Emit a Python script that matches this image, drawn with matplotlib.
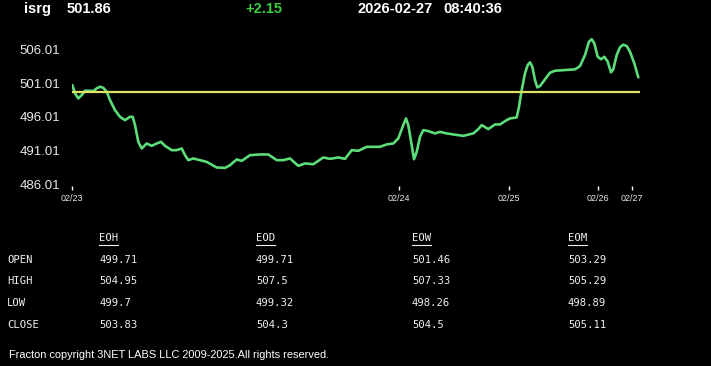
import numpy as np
import matplotlib
matplotlib.use("Agg")
import matplotlib.pyplot as plt
from matplotlib.lines import Line2D

# ---------------- dados ----------------
symbol = "isrg"
last_price = "501.86"
change = "+2.15"
stamp_date = "2026-02-27"
stamp_time = "08:40:36"
prev_close = 499.71

# tempo da sessao (unidades do eixo) e preco
t = [0.3, 3, 6.3, 9.7, 13, 18, 21.3, 24.7, 28, 31.3, 34.7, 38, 43, 48, 53, 58, 60.7,
     63, 66.3, 69.7, 74.7, 79.7, 84.7, 89, 93, 99.7, 104.7, 109.7, 113, 116.3, 121.3,
     134.7, 144.7, 153, 158, 164.7, 169.7, 178, 188, 196.3, 204.7, 211.3, 218, 226.3,
     233, 241.3, 251.3, 258, 266.3, 273, 279.7, 286.3, 294.7, 304.7,
     308, 314.7, 321.3, 326.3, 331.3, 334, 336.3, 339.7, 342, 344.7, 348, 351.3,
     356.3, 363, 368, 374.7, 381.3, 391.3, 401.3, 406.3, 409.7, 416.3, 423, 428, 434.7,
     438, 444.7, 447, 449.7, 453, 455.7, 458, 460.3, 463, 465.3, 468, 473, 478, 483,
     493, 503, 508, 513, 517, 519.7, 522.3, 525.7, 529, 532.3, 535.7, 539, 541.3,
     544.7, 548, 551.3, 554.7, 558, 562.3, 566.3]
price = [500.71, 499.48, 498.74, 499.23, 499.87, 499.87, 499.82, 500.22, 500.46,
         500.31, 499.72, 498.49, 497.00, 496.01, 495.52, 496.01, 496.01, 494.78,
         492.30, 491.32, 492.06, 491.71, 492.06, 492.30, 491.71, 491.07, 491.07,
         491.32, 490.33, 489.59, 489.84,
         489.33, 488.50, 488.44, 488.84, 489.69, 489.48, 490.33, 490.43, 490.43,
         489.59, 489.59, 489.84, 488.74, 489.10, 488.99, 489.99, 489.78, 489.99,
         489.78, 491.07, 490.97, 491.56, 491.56,
         491.56, 491.92, 492.06, 492.81, 494.78, 495.77, 494.78, 491.81, 489.73,
         490.82, 493.04, 494.04, 493.89, 493.55, 493.78, 493.55, 493.40, 493.19,
         493.55, 494.19, 494.78, 494.19, 494.88, 494.88, 495.52,
         495.77, 495.92, 497.49, 499.97, 502.45, 503.68, 504.08, 503.43, 501.46,
         500.37, 500.56, 501.56, 502.54, 502.83, 502.94, 503.04, 503.53, 505.16,
         507.14, 507.50, 506.90, 504.91, 504.53, 504.91, 504.17, 502.60, 503.04,
         505.16, 506.31, 506.69, 506.50, 505.65, 503.93, 501.86]

day_pos = [0, 327, 437, 526, 560]
day_labels = ["02/23", "02/24", "02/25", "02/26", "02/27"]
y_ticks = [486.01, 491.01, 496.01, 501.01, 506.01]

col_names = ["EOH", "EOD", "EOW", "EOM"]
row_names = ["OPEN", "HIGH", "LOW", "CLOSE"]
eoh = ["499.71", "504.95", "499.7", "503.83"]
eod = ["499.71", "507.5", "499.32", "504.3"]
eow = ["501.46", "507.33", "498.26", "504.5"]
eom = ["503.29", "505.29", "498.89", "505.11"]

footer = "Fracton copyright 3NET LABS LLC 2009-2025.All rights reserved."

# ---------------- figura ----------------
W, H = 711, 366
fig = plt.figure(figsize=(W / 100, H / 100), dpi=100, facecolor="black")

def px(x, y):
    return x / W, 1 - y / H

ax = fig.add_axes([72 / W, 1 - 186 / H, (640 - 72) / W, (186 - 30) / H])
ax.set_facecolor("black")
for s in ax.spines.values():
    s.set_visible(False)

ax.plot(t, price, color="#5ddc7a", lw=1.9, solid_joinstyle="round",
        solid_capstyle="round")
ax.axhline(prev_close, color="#dfe463", lw=1.6)

ax.set_xlim(0, 568)
ax.set_ylim(485.76, 508.87)
ax.set_yticks(y_ticks)
ax.set_yticklabels([f"{v:.2f}" for v in y_ticks])
ax.set_xticks(day_pos)
ax.set_xticklabels(day_labels)
ax.tick_params(axis="y", length=0, pad=8.5, labelcolor="#e8e8e8", labelsize=9.5)
ax.tick_params(axis="x", length=3, width=1, color="white", direction="out",
               pad=2.5, labelcolor="#e8e8e8", labelsize=6.5)
for lab in ax.get_yticklabels() + ax.get_xticklabels():
    lab.set_family("Liberation Sans")

# cabecalho
hdr = dict(family="Liberation Sans", fontsize=10.5, fontweight="bold", va="center")
fig.text(*px(24, 9), symbol, color="white", **hdr)
fig.text(*px(67, 9), last_price, color="white", **hdr)
fig.text(*px(245, 9), change, color="#3ccc3c", **hdr)
fig.text(*px(357, 9), stamp_date, color="white", **hdr)
fig.text(*px(443, 9), stamp_time, color="white", **hdr)

# tabela
mono = dict(family="DejaVu Sans Mono", fontsize=7.6, color="#f0f0f0", va="center")
col_x = [99, 256, 412, 568]
row_y = [260, 281, 302.5, 325]
heads = []
for cx, name in zip(col_x, col_names):
    heads.append(fig.text(*px(cx, 238), name, **mono))
for ry, name in zip(row_y, row_names):
    fig.text(*px(7, ry), name, **mono)
for cx, col in zip(col_x, [eoh, eod, eow, eom]):
    for ry, v in zip(row_y, col):
        fig.text(*px(cx, ry), v, **mono)

fig.canvas.draw()
r = fig.canvas.get_renderer()
for h in heads:
    bb = h.get_window_extent(r)
    yl = 1 - 244.5 / H
    fig.add_artist(Line2D([bb.x0 / W, bb.x1 / W], [yl, yl], color="#f0f0f0", lw=0.8))

fig.text(*px(9, 355), footer, family="Liberation Sans", fontsize=7.95,
         color="white", va="center")

fig.savefig("out.png", dpi=100, facecolor="black")
